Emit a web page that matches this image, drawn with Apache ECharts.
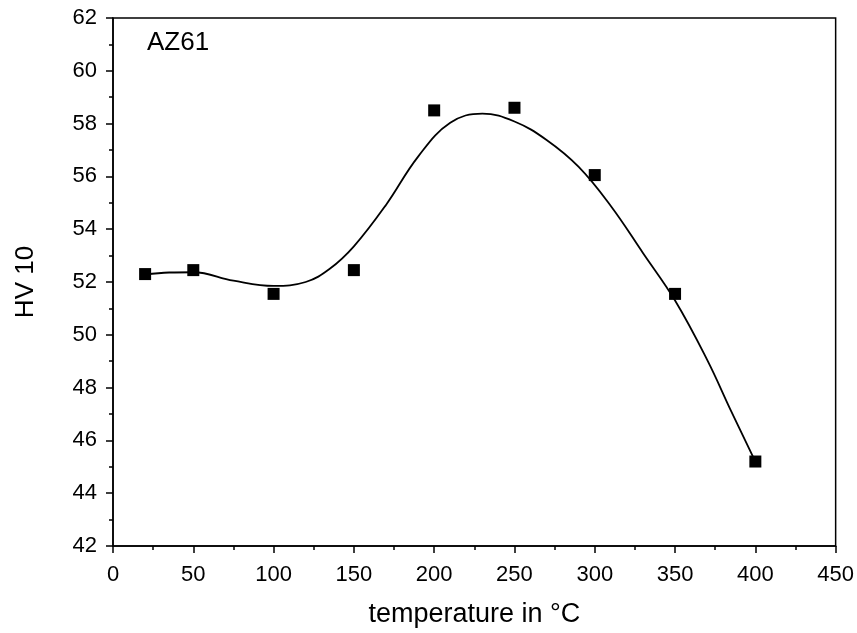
<!DOCTYPE html>
<html>
<head>
<meta charset="utf-8">
<script src="https://cdn.jsdelivr.net/npm/echarts@6/dist/echarts.min.js"></script>
<style>html,body{margin:0;padding:0;background:#fff}#c{width:857px;height:633px}</style>
</head>
<body>
<div id="c"></div>
<script>
// measured hardness values (markers)
var temps = [20, 50, 100, 150, 200, 250, 300, 350, 400];
var hv10 = [52.3, 52.45, 51.55, 52.45, 58.5, 58.6, 56.05, 51.55, 45.2];
// fitted curve
var curveT = [20, 35, 50, 75, 100, 120, 135, 150, 170, 190, 210, 230, 250, 270, 290, 310, 330, 350, 370, 385, 400];
var curveHV = [52.28, 52.36, 52.37, 52.05, 51.85, 52.0, 52.5, 53.35, 54.92, 56.75, 58.03, 58.38, 58.08, 57.38, 56.36, 54.88, 53.1, 51.3, 49.05, 47.1, 45.2];
var xTicks = [0, 50, 100, 150, 200, 250, 300, 350, 400, 450];
var yTicks = [42, 44, 46, 48, 50, 52, 54, 56, 58, 60, 62];
var sampleLabel = 'AZ61';

var font = "'Liberation Sans',Arial,sans-serif";
var chart = echarts.init(document.getElementById('c'), null, {renderer: 'canvas'});
chart.setOption({
  animation: false,
  backgroundColor: '#fff',
  grid: {left: 113, right: 21, top: 18, bottom: 86, show: true, borderColor: '#000', borderWidth: 1.5, backgroundColor: 'transparent'},
  graphic: [{
    type: 'text', left: 147, top: 30,
    style: {text: sampleLabel, font: "26px 'Liberation Sans',Arial,sans-serif", fill: '#000'}
  }],
  xAxis: {
    type: 'value', min: xTicks[0], max: xTicks[xTicks.length - 1], interval: 50,
    name: 'temperature in °C', nameLocation: 'middle', nameGap: 55,
    nameTextStyle: {fontSize: 27, color: '#000', fontFamily: font},
    axisLine: {show: true, onZero: false, lineStyle: {color: '#000', width: 1.5}},
    axisTick: {show: true, inside: false, length: 7, lineStyle: {color: '#000', width: 1.5}},
    minorTick: {show: true, splitNumber: 2, length: 4, lineStyle: {color: '#000', width: 1.5}},
    splitLine: {show: false},
    axisLabel: {fontSize: 22, color: '#000', margin: 18, fontFamily: font}
  },
  yAxis: {
    type: 'value', min: yTicks[0], max: yTicks[yTicks.length - 1], interval: 2,
    name: 'HV 10', nameLocation: 'middle', nameGap: 74, nameRotate: 90,
    nameTextStyle: {fontSize: 26, color: '#000', fontFamily: font},
    axisLine: {show: true, onZero: false, lineStyle: {color: '#000', width: 1.5}},
    axisTick: {show: true, inside: false, length: 7, lineStyle: {color: '#000', width: 1.5}},
    minorTick: {show: true, splitNumber: 2, length: 4, lineStyle: {color: '#000', width: 1.5}},
    splitLine: {show: false},
    axisLabel: {fontSize: 22, color: '#000', margin: 16, fontFamily: font}
  },
  series: [{
    type: 'line',
    data: curveT.map(function (t, i) { return [t, curveHV[i]]; }),
    smooth: 0.4, showSymbol: false, symbol: 'none',
    lineStyle: {color: '#000', width: 1.8}
  }, {
    type: 'scatter',
    data: temps.map(function (t, i) { return [t, hv10[i]]; }),
    symbol: 'rect', symbolSize: 12,
    itemStyle: {color: '#000', opacity: 1}
  }]
});
</script>
</body>
</html>
